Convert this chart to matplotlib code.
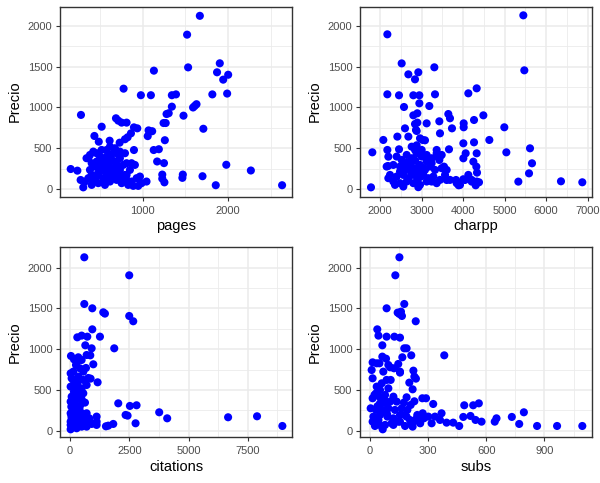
import matplotlib
matplotlib.use("Agg")
import matplotlib.pyplot as plt
from matplotlib.ticker import FixedLocator

plt.rcParams['font.family'] = ['Liberation Sans', 'DejaVu Sans']

# ---- Panel 1: pages vs price ----
pages = [1669,1520,1532,1132,1902,1870,1942,2000,1988,1815,778,980,1097,1342,1390,1342,1590,1630,1610,1478,
         1280,1305,1245,1270,1710,1260,1070,1060,1112,1130,1190,1170,1250,1230,1230,1255,1465,1470,1700,1855,
         1978,2265,2630,280,689,716,755,813,522,899,938,794,825,864,437,488,615,732,899,160,238,307,276,405,345,
         424,463,366,502,580,619,657,541,599,677,716,443,385,502,580,657,735,774,813,871,910,852,794,735,813,871,
         930,969,988,1046,424,482,541,619,560,405,366,327,463,696,755,832,891,949,716,638,521,463,405,580,677,735,
         794,521,385,735,619,677,541,619,502,813,774,560,600,640,700,540,480,660,720,600,560]
price_p = [2120,1890,1490,1450,1540,1430,1340,1400,1170,1160,1230,1150,1150,1150,1160,1010,1000,1040,1020,900,
           920,930,810,810,740,600,720,650,710,480,490,340,320,180,130,85,140,180,160,50,
           300,230,50,909,868,839,815,815,765,757,745,612,636,684,652,582,594,570,480,248,228,24,114,175,380,
           461,441,380,400,481,522,441,339,298,339,278,278,237,217,197,217,237,298,319,319,298,237,176,136,115,95,
           136,156,75,95,115,75,136,95,54,54,136,95,156,115,75,54,42,42,197,156,278,339,319,400,502,461,
           441,481,420,380,258,156,95,339,298,176,115,380,420,360,300,240,200,260,420,180,120]

# ---- Panel 2: charpp vs price ----
charpp = [5453,2177,2522,2683,2923,2843,3309,5477,2177,2458,2803,2948,3325,4128,4329,2578,2948,3188,2803,2899,
          3646,3686,4490,4265,4016,2899,2843,3124,3429,2602,2867,2883,3734,4016,4995,2080,2418,2683,2964,3028,
          3084,3445,4634,2763,2883,2177,2458,3662,4008,4265,5614,1815,2201,4064,4329,5044,4008,4249,5662,5590,
          2193,5333,6360,6874,1783,4321,4337,4209,4385,4305,3895,4048,3606,3831,3542,3429,3486,3365,3389,
          2401,2522,2642,2763,2883,3004,3124,3244,3365,3445,2321,2482,2602,2722,2843,2963,3084,3204,3325,3485,
          3606,2241,2401,2562,2682,2803,2923,3044,3164,3285,3445,3566,3686,2201,2321,2482,2642,2803,2963,3124,
          3244,3365,2722,2843,3004,3124,3244,2562,2963,2803,2482,2160,3847,4007,4128,4208,4329,3927,2562,2923,2361,
          2650,2750,2850,2950,3050,2700,2900,3000]
price_c = [2126,1894,1539,1405,1430,1344,1491,1454,1161,1149,1149,1149,1161,1173,1234,1006,1051,1018,904,929,
           920,868,904,847,806,815,798,806,831,745,725,713,745,758,758,603,644,644,623,603,
           599,684,603,521,538,481,489,489,562,574,501,452,399,440,440,452,379,338,318,195,
           285,94,98,86,24,277,204,94,86,49,49,114,114,114,277,358,420,481,399,
           400,359,420,380,441,400,420,380,441,400,298,278,237,298,258,298,237,278,237,258,
           237,176,156,176,136,176,136,176,136,156,115,176,115,136,95,75,95,75,54,95,
           95,75,319,481,481,339,319,319,217,217,217,278,75,123,176,115,95,54,34,26,54,
           330,200,350,180,260,260,110,160]

# ---- Panel 3: citations vs price ----
citations = [604,2499,604,941,1404,1474,2499,2668,941,309,491,730,1264,646,913,1867,702,856,983,1165,870,
             2036,2527,2808,2345,2429,3763,4100,6669,7890,8958,2766,1825,1516,1615,1123,1123,1123,632,772,702,
             491,281,28,42,168,351,491,253,421,140,562,351,70,562,309,112,491,168,393,70,281,491,28,211,421,
             112,309,632,28,253,491,702,70,309,562,814,140,393,913,28,211,28,28,281,140,702,562,309,674,772,
             56,28,253,150,350,100,250,400,60,180,300]
price_ci = [2127,1906,1554,1501,1452,1436,1407,1342,1243,1145,1166,1153,1153,1047,1010,1010,928,924,814,593,638,
            335,303,311,192,184,225,151,164,176,57,90,82,53,61,172,110,70,98,131,49,
            49,29,16,916,875,900,867,806,765,724,724,663,642,622,581,548,519,479,450,417,384,384,356,327,303,
            274,254,344,213,204,213,213,151,139,151,151,90,82,82,70,458,540,703,540,622,560,458,847,769,646,
            294,110,110,250,170,390,490,260,180,120,60]

# ---- Panel 4: subs vs price ----
subs = [153,132,178,87,144,161,166,153,237,39,45,87,127,156,178,190,168,214,384,65,15,36,50,65,84,96,105,125,
        147,156,225,230,238,204,221,156,190,271,290,327,230,487,533,562,794,732,770,862,965,1095,653,644,576,
        545,519,482,461,430,396,370,336,302,273,242,207,182,221,259,319,362,67,
        10,15,36,62,53,33,79,96,15,53,84,122,139,5,33,67,96,130,165,19,53,91,122,156,190,15,45,79,113,147,
        27,62,216,70,87,108,50,74,105,176,211,194,245,279,182,156,122,40,60,25,90,45,70,230,260]
price_s = [2127,1906,1554,1501,1448,1460,1407,1431,1342,1243,1166,1153,1153,1141,1010,1010,900,924,924,1047,838,
           826,826,908,883,806,777,765,818,724,736,663,638,589,507,712,409,397,397,327,360,311,311,335,225,168,
           82,57,57,57,151,110,110,131,180,168,57,98,98,213,172,172,213,151,131,57,49,98,90,131,16,
           744,642,540,581,499,458,438,519,397,335,335,417,356,274,254,254,274,254,274,172,192,172,151,192,172,
           110,90,70,90,110,57,49,70,724,622,622,417,384,356,344,315,254,192,151,192,110,70,300,230,440,200,130,360,120,90]

fig = plt.figure(figsize=(6.0, 4.83), dpi=100)

panels = [
    dict(x=pages, y=price_p, xlabel='pages', rect=[0.1, 0.5928, 0.3867, 0.3934],
         xlim=(35, 2746), xmaj=[1000, 2000], xmin=[500, 1500, 2500], ylim=(-90, 2232)),
    dict(x=charpp, y=price_c, xlabel='charpp', rect=[0.6, 0.5928, 0.3867, 0.3934],
         xlim=(1518, 7108), xmaj=[2000, 3000, 4000, 5000, 6000, 7000],
         xmin=[2500, 3500, 4500, 5500, 6500], ylim=(-90, 2232)),
    dict(x=citations, y=price_ci, xlabel='citations', rect=[0.1, 0.0946, 0.3867, 0.3948],
         xlim=(-421, 9365), xmaj=[0, 2500, 5000, 7500], xmin=[1250, 3750, 6250, 8750], ylim=(-82, 2258)),
    dict(x=subs, y=price_s, xlabel='subs', rect=[0.6, 0.0946, 0.3867, 0.3948],
         xlim=(-50, 1145), xmaj=[0, 300, 600, 900], xmin=[150, 450, 750, 1050], ylim=(-82, 2258)),
]

for p in panels:
    ax = fig.add_axes(p['rect'])
    ax.set_xlim(*p['xlim'])
    ax.set_ylim(*p['ylim'])
    ax.xaxis.set_major_locator(FixedLocator(p['xmaj']))
    ax.xaxis.set_minor_locator(FixedLocator(p['xmin']))
    ax.yaxis.set_major_locator(FixedLocator([0, 500, 1000, 1500, 2000]))
    ax.yaxis.set_minor_locator(FixedLocator([250, 750, 1250, 1750]))
    ax.grid(which='major', color='#EBEBEB', linewidth=1.1)
    ax.grid(which='minor', color='#EBEBEB', linewidth=0.6)
    ax.set_axisbelow(True)
    ax.scatter(p['x'], p['y'], s=34, color='blue', edgecolors='none', zorder=3)
    for sp in ax.spines.values():
        sp.set_color('#333333')
        sp.set_linewidth(1.0)
    ax.tick_params(which='major', length=3, width=0.8, color='#333333',
                   labelsize=8, labelcolor='#4D4D4D', pad=2.5)
    ax.tick_params(axis='x', which='major', pad=3.5)
    ax.tick_params(which='minor', length=0)
    ax.set_xlabel(p['xlabel'], fontsize=10.5, color='black', labelpad=2.5)
    ax.set_ylabel('Precio', fontsize=10.5, color='black', labelpad=4)

fig.savefig('out.png', dpi=100, facecolor='white')
